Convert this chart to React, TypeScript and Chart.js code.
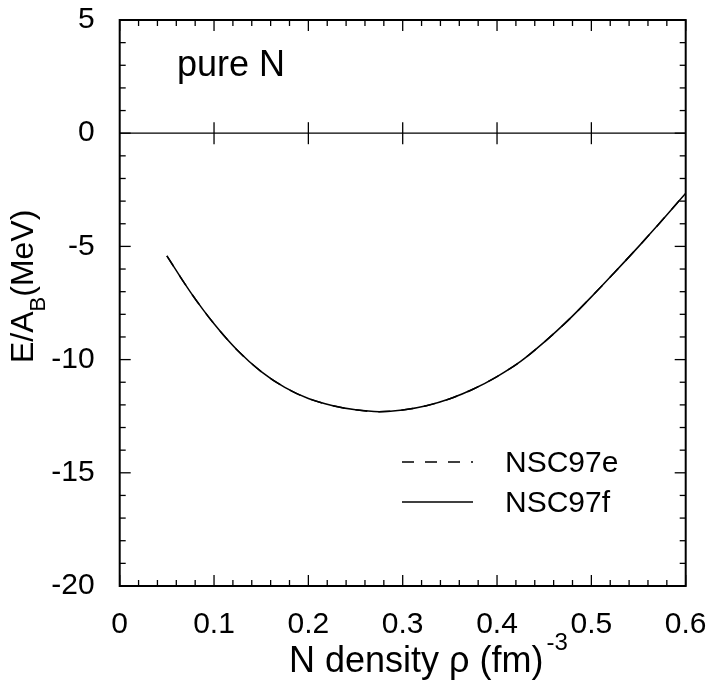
import React, { useEffect, useRef } from "react";
import { Chart, registerables } from "chart.js";

Chart.register(...registerables);

// ---- data ----
const densities = [
  0.05, 0.075, 0.1, 0.125, 0.15, 0.175, 0.2, 0.225, 0.25, 0.275, 0.3, 0.325,
  0.35, 0.375, 0.4, 0.425, 0.45, 0.475, 0.5, 0.525, 0.55, 0.575, 0.6,
];
const energyNSC97e = [
  -5.42, -7.02, -8.42, -9.6, -10.53, -11.23, -11.72, -12.03, -12.22, -12.3, -12.23,
  -12.04, -11.73, -11.3, -10.75, -10.08, -9.23, -8.28, -7.23, -6.13, -5.01, -3.85,
  -2.65,
];
const energyNSC97f = [
  -5.42, -7.02, -8.42, -9.6, -10.53, -11.23, -11.72, -12.03, -12.22, -12.3, -12.23,
  -12.04, -11.73, -11.3, -10.75, -10.08, -9.23, -8.28, -7.23, -6.13, -5.01, -3.85,
  -2.65,
];
const seriesLabels = ["NSC97e", "NSC97f"];
const xTickValues = [0, 0.1, 0.2, 0.3, 0.4, 0.5, 0.6];
const yTickValues = [-20, -15, -10, -5, 0, 5];
const xMinorStep = 0.02;
const yMinorStep = 1;
const panelLabel = "pure N";
const xTitleMain = "N density ρ (fm)";
const xTitleSup = "-3";
const yTitleMain = "E/A";
const yTitleSub = "B";
const yTitleTail = "(MeV)";

const FONT = "'Liberation Sans', Arial, Helvetica, sans-serif";

const decorPlugin = {
  id: "decor",
  afterDraw(chart: any) {
    const { ctx, chartArea: a, scales } = chart;
    const xs = scales.x;
    const ys = scales.y;
    const line = (x1: number, y1: number, x2: number, y2: number) => {
      ctx.beginPath();
      ctx.moveTo(x1, y1);
      ctx.lineTo(x2, y2);
      ctx.stroke();
    };
    ctx.save();
    ctx.strokeStyle = "#000";
    ctx.lineCap = "butt";

    // zero line
    const y0 = ys.getPixelForValue(0);
    ctx.lineWidth = 1.3;
    line(a.left, y0, a.right, y0);

    // x ticks (bottom, top, and on zero line)
    ctx.lineWidth = 1.3;
    const xMin = xTickValues[0];
    const xMax = xTickValues[xTickValues.length - 1];
    const nx = Math.round((xMax - xMin) / xMinorStep);
    for (let i = 0; i <= nx; i++) {
      const v = xMin + i * xMinorStep;
      const px = xs.getPixelForValue(v);
      const major = xTickValues.some((t) => Math.abs(t - v) < 1e-9);
      const len = major ? 11 : 6;
      line(px, a.bottom, px, a.bottom - len);
      line(px, a.top, px, a.top + len);
      if (major && i > 0 && i < nx) line(px, y0 - 11, px, y0 + 11);
    }
    // y ticks (left, right)
    const yMin = yTickValues[0];
    const yMax = yTickValues[yTickValues.length - 1];
    const ny = Math.round((yMax - yMin) / yMinorStep);
    for (let i = 0; i <= ny; i++) {
      const v = yMin + i * yMinorStep;
      const py = ys.getPixelForValue(v);
      const major = yTickValues.some((t) => Math.abs(t - v) < 1e-9);
      const len = major ? 11 : 6;
      line(a.left, py, a.left + len, py);
      line(a.right, py, a.right - len, py);
    }

    // frame
    ctx.lineWidth = 2;
    ctx.strokeRect(a.left, a.top, a.right - a.left, a.bottom - a.top);

    // panel label
    ctx.fillStyle = "#000";
    ctx.textBaseline = "alphabetic";
    ctx.textAlign = "left";
    ctx.font = `36px ${FONT}`;
    ctx.fillText(panelLabel, 177, 76);

    // legend
    const datasets = chart.data.datasets;
    datasets.forEach((ds: any, i: number) => {
      const ly = 462 + i * 40;
      ctx.save();
      ctx.strokeStyle = ds.borderColor;
      ctx.lineWidth = ds.borderWidth;
      ctx.setLineDash(ds.borderDash || []);
      line(402, ly, 473, ly);
      ctx.restore();
      ctx.font = `30px ${FONT}`;
      ctx.textBaseline = "middle";
      ctx.fillStyle = "#000";
      ctx.fillText(ds.label, 505, ly + 2);
    });

    // x title
    ctx.textBaseline = "alphabetic";
    ctx.font = `36px ${FONT}`;
    const xStart = 289;
    ctx.fillText(xTitleMain, xStart, 672);
    const wMain = ctx.measureText(xTitleMain).width;
    ctx.font = `24px ${FONT}`;
    ctx.fillText(xTitleSup, xStart + wMain + 3, 650);

    // y title (rotated)
    ctx.save();
    ctx.translate(33, 363);
    ctx.rotate(-Math.PI / 2);
    ctx.font = `32px ${FONT}`;
    ctx.fillText(yTitleMain, 0, 0);
    const w1 = ctx.measureText(yTitleMain).width;
    ctx.font = `22px ${FONT}`;
    ctx.fillText(yTitleSub, w1, 12);
    const w2 = ctx.measureText(yTitleSub).width;
    ctx.font = `32px ${FONT}`;
    ctx.fillText(yTitleTail, w1 + w2, 0);
    ctx.restore();

    ctx.restore();
  },
};

const zeroPad = (s: any) => {
  s.paddingTop = 0;
  s.paddingBottom = 0;
  s.paddingLeft = 0;
  s.paddingRight = 0;
};

export default function App() {
  const canvasRef = useRef<HTMLCanvasElement | null>(null);

  useEffect(() => {
    const canvas = canvasRef.current;
    if (!canvas) return;
    const chart = new Chart(canvas, {
      type: "line",
      data: {
        datasets: [
          {
            label: seriesLabels[0],
            data: densities.map((x, i) => ({ x, y: energyNSC97e[i] })),
            borderColor: "#000",
            borderWidth: 1.5,
            borderDash: [12, 11],
            pointRadius: 0,
            cubicInterpolationMode: "monotone",
            fill: false,
            order: 1,
          },
          {
            label: seriesLabels[1],
            data: densities.map((x, i) => ({ x, y: energyNSC97f[i] })),
            borderColor: "#000",
            borderWidth: 1.5,
            pointRadius: 0,
            cubicInterpolationMode: "monotone",
            fill: false,
            order: 0,
          },
        ],
      },
      options: {
        animation: false,
        responsive: false,
        devicePixelRatio: 1,
        layout: { padding: { top: 20, right: 24.3, left: 0, bottom: 0 } },
        plugins: {
          legend: { display: false },
          tooltip: { enabled: false },
        },
        scales: {
          x: {
            type: "linear",
            min: xTickValues[0],
            max: xTickValues[xTickValues.length - 1],
            grid: { display: false },
            border: { display: false },
            afterFit: (s: any) => {
              s.height = 99;
              zeroPad(s);
            },
            afterBuildTicks: (s: any) => {
              s.ticks = xTickValues.map((v) => ({ value: v }));
            },
            ticks: {
              padding: 13,
              color: "#000",
              font: { family: FONT, size: 30 },
              maxRotation: 0,
              callback: (v: any) => String(Number(Number(v).toFixed(2))),
            },
          },
          y: {
            type: "linear",
            min: yTickValues[0],
            max: yTickValues[yTickValues.length - 1],
            grid: { display: false },
            border: { display: false },
            afterFit: (s: any) => {
              s.width = 119.7;
              zeroPad(s);
            },
            afterBuildTicks: (s: any) => {
              s.ticks = yTickValues.map((v) => ({ value: v }));
            },
            ticks: {
              padding: 17,
              color: "#000",
              font: { family: FONT, size: 30 },
              callback: (v: any) => String(v),
            },
          },
        },
      },
      plugins: [decorPlugin],
    });
    return () => chart.destroy();
  }, []);

  return (
    <div style={{ position: "fixed", left: 0, top: 0, width: 710, height: 685, background: "#fff" }}>
      <canvas ref={canvasRef} width={710} height={685} style={{ display: "block" }} />
    </div>
  );
}
